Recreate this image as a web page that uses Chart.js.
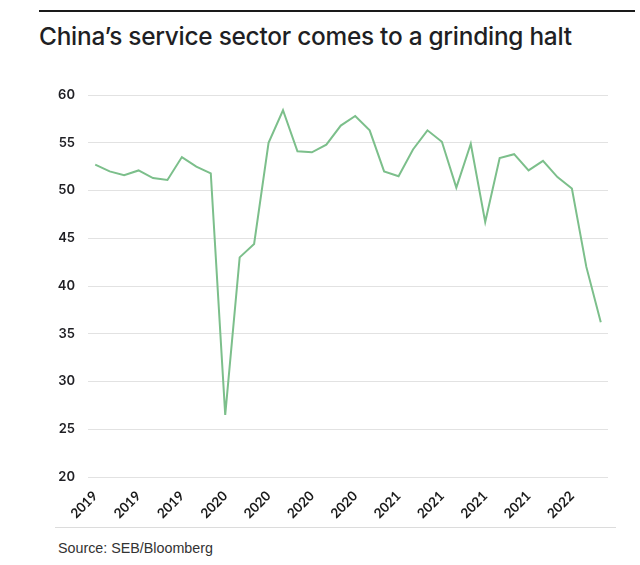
<!DOCTYPE html>
<html>
<head>
<meta charset="utf-8">
<script src="https://cdn.jsdelivr.net/npm/chart.js@4.4.0/dist/chart.umd.min.js"></script>
<style>
    html, body { margin: 0; padding: 0; background: #fff; }
    body { width: 640px; height: 565px; position: relative; overflow: hidden; }
    .top-rule { position: absolute; left: 39px; top: 10px; width: 596px; height: 0; border-top: 2px solid #1a1a1a; }
    .title { position: absolute; left: 39px; top: 21px; font-family: 'Inter', sans-serif; font-weight: 500; font-size: 24.4px; color: #1f1f24; letter-spacing: -0.25px; white-space: nowrap; }
    .chart-box { position: absolute; left: 0; top: 60px; width: 640px; height: 470px; }
    .bottom-rule { position: absolute; left: 55px; top: 527px; width: 561px; height: 1px; background: #dcdcdc; }
    .source { position: absolute; left: 58px; top: 540px; font-family: 'Liberation Sans', Arial, sans-serif; font-size: 14.3px; color: #333; }
</style>
</head>
<body>
<div class="top-rule"></div>
<div class="title">China’s service sector comes to a grinding halt</div>
<div class="chart-box"><canvas id="pmi-chart" width="640" height="470"></canvas></div>
<div class="bottom-rule"></div>
<div class="source">Source: SEB/Bloomberg</div>

<script>
// Mois de mai 2019 à avril 2022 (étiquette = année, affichée tous les 3 mois)
const years = [
    '2019', '2019', '2019', '2019', '2019', '2019', '2019', '2019',
    '2020', '2020', '2020', '2020', '2020', '2020', '2020', '2020', '2020', '2020', '2020', '2020',
    '2021', '2021', '2021', '2021', '2021', '2021', '2021', '2021', '2021', '2021', '2021', '2021',
    '2022', '2022', '2022', '2022'
];

// Indice PMI des services
const pmiValues = [
    52.7, 52.0, 51.6, 52.1, 51.3, 51.1, 53.5, 52.5,
    51.8, 26.5, 43.0, 44.4, 55.0, 58.4, 54.1, 54.0, 54.8, 56.8, 57.8, 56.3,
    52.0, 51.5, 54.3, 56.3, 55.1, 50.3, 54.9, 46.7, 53.4, 53.8, 52.1, 53.1,
    51.4, 50.2, 42.0, 36.2
];

const yTicks = [20, 25, 30, 35, 40, 45, 50, 55, 60];

new Chart(document.getElementById('pmi-chart').getContext('2d'), {
    type: 'line',
    data: {
        labels: years,
        datasets: [{
            data: pmiValues,
            borderColor: '#7cbf8b',
            borderWidth: 2,
            pointRadius: 0,
            tension: 0,
            fill: false
        }]
    },
    options: {
        responsive: false,
        animation: false,
        layout: { padding: { top: 35, right: 32, bottom: 0, left: 0 } },
        plugins: {
            legend: { display: false },
            tooltip: { enabled: false }
        },
        scales: {
            x: {
                offset: true,
                grid: { display: false, drawTicks: false },
                border: { display: false },
                afterFit: (scale) => { scale.height = 53; },
                ticks: {
                    autoSkip: false,
                    maxRotation: 45,
                    minRotation: 45,
                    padding: 11,
                    color: '#1a1a1a',
                    font: { family: 'Lato', size: 13.5, weight: 'bold' },
                    callback: (val, i) => (i % 3 === 0 ? years[i] : '')
                }
            },
            y: {
                min: yTicks[0],
                max: yTicks[yTicks.length - 1],
                afterBuildTicks: (scale) => { scale.ticks = yTicks.map(v => ({ value: v })); },
                afterFit: (scale) => { scale.width = 88; },
                grid: { color: '#e2e2e2', lineWidth: 1, drawTicks: false },
                border: { display: false },
                ticks: {
                    padding: 13,
                    color: '#1f1f24',
                    font: { family: 'Inter', size: 13, weight: '600' }
                }
            }
        }
    }
});
</script>
</body>
</html>
